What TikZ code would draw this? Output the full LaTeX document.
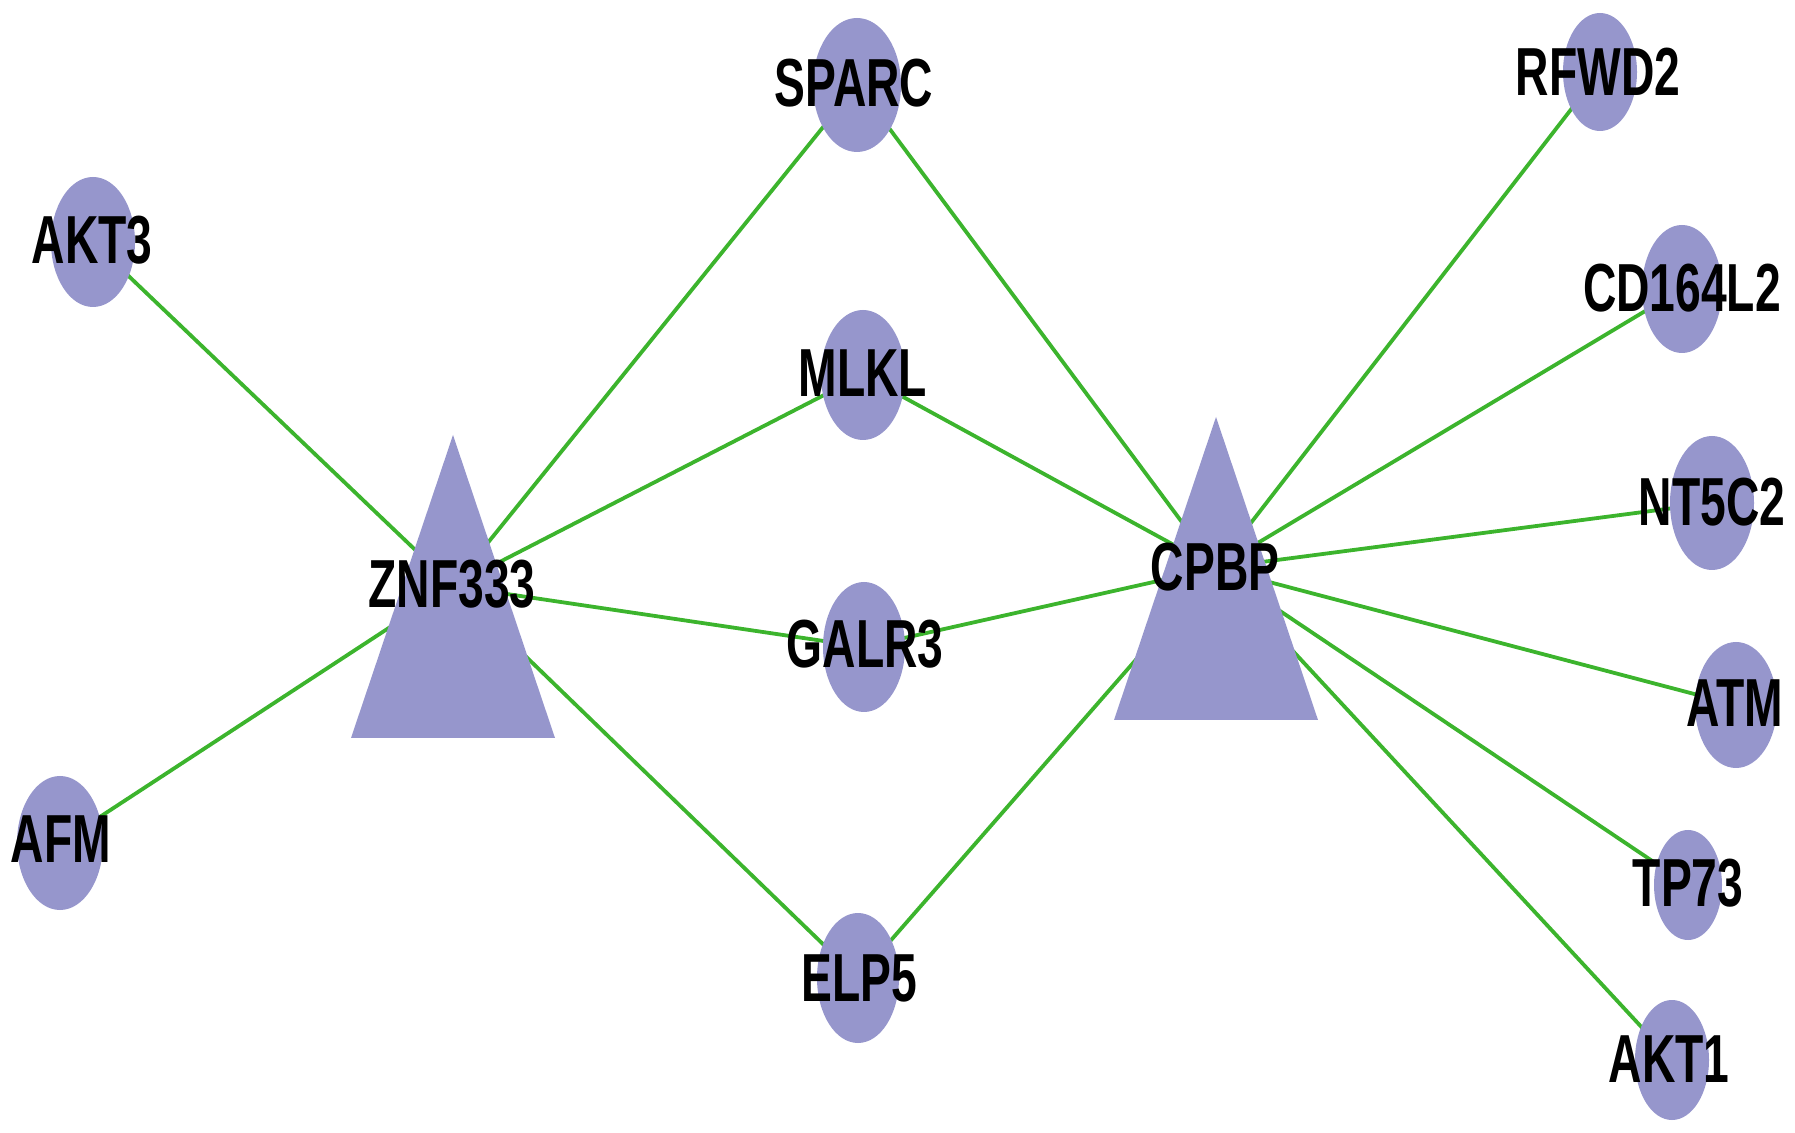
\documentclass[tikz,border=0pt]{standalone}
\usepackage{fontspec}
\setmainfont{Liberation Sans}[FakeStretch=0.68]
\definecolor{nodefill}{RGB}{150,150,204}
\definecolor{edgecol}{RGB}{60,180,45}
\begin{document}
\begin{tikzpicture}[x=0.5pt,y=-0.5pt,
  gene/.style={ellipse, fill=nodefill, draw=none, inner sep=0pt},
  lbl/.style={font=\fontsize{34}{34}\selectfont\bfseries, text=black, inner sep=0pt, text depth=0pt},
  edge/.style={draw=edgecol, line width=1.9pt}]
\useasboundingbox (0,0) rectangle (1795,1133);
% centres
\coordinate (AKT3) at (93,242);
\coordinate (SPARC) at (857,85);
\coordinate (RFWD2) at (1600,72);
\coordinate (CD164L2) at (1682,289);
\coordinate (MLKL) at (863,375);
\coordinate (NT5C2) at (1712,503);
\coordinate (GALR3) at (864,647);
\coordinate (ATM) at (1736,705);
\coordinate (AFM) at (60,843);
\coordinate (TP73) at (1688,885);
\coordinate (ELP5) at (858,978);
\coordinate (AKT1) at (1672,1060);
\coordinate (ZNF333) at (453,586);
\coordinate (CPBP) at (1216,568);
% edges
\foreach \a in {AKT3,AFM,SPARC,MLKL,GALR3,ELP5}
  \draw[edge] (\a) -- (ZNF333);
\foreach \a in {SPARC,MLKL,GALR3,ELP5,RFWD2,CD164L2,NT5C2,ATM,TP73,AKT1}
  \draw[edge] (\a) -- (CPBP);
% node shapes
\fill[nodefill] (93,242) ellipse [x radius=42, y radius=65];
\fill[nodefill] (857,85) ellipse [x radius=44, y radius=67];
\fill[nodefill] (1600,72) ellipse [x radius=37, y radius=59];
\fill[nodefill] (1682,289) ellipse [x radius=40, y radius=64];
\fill[nodefill] (863,375) ellipse [x radius=42, y radius=65];
\fill[nodefill] (1712,503) ellipse [x radius=42, y radius=67];
\fill[nodefill] (864,647) ellipse [x radius=41, y radius=65];
\fill[nodefill] (1736,705) ellipse [x radius=41, y radius=63];
\fill[nodefill] (60,843) ellipse [x radius=43, y radius=67];
\fill[nodefill] (1688,885) ellipse [x radius=34, y radius=55];
\fill[nodefill] (858,978) ellipse [x radius=41, y radius=65];
\fill[nodefill] (1672,1060) ellipse [x radius=37, y radius=60];
\fill[nodefill] (453,435) -- (555,738) -- (351,738) -- cycle;
\fill[nodefill] (1216,417) -- (1318,720) -- (1114,720) -- cycle;
% labels
\node[lbl] (tAKT3) at (92,240) {AKT3};
\node[lbl] (tSPARC) at (854,83) {SPARC};
\node[lbl] (tRFWD2) at (1598,72) {RFWD2};
\node[lbl] (tCD164L2) at (1682,288) {CD164L2};
\node[lbl] (tMLKL) at (863,373) {MLKL};
\node[lbl] (tNT5C2) at (1712,502) {NT5C2};
\node[lbl] (tGALR3) at (865,644) {GALR3};
\node[lbl] (tATM) at (1735,703) {ATM};
\node[lbl] (tAFM) at (61,839) {AFM};
\node[lbl] (tTP73) at (1688,883) {TP73};
\node[lbl] (tELP5) at (859,978) {ELP5};
\node[lbl] (tAKT1) at (1669,1059) {AKT1};
\node[lbl] (tZNF333) at (452,584) {ZNF333};
\node[lbl] (tCPBP) at (1215,567) {CPBP};
\end{tikzpicture}
\end{document}
